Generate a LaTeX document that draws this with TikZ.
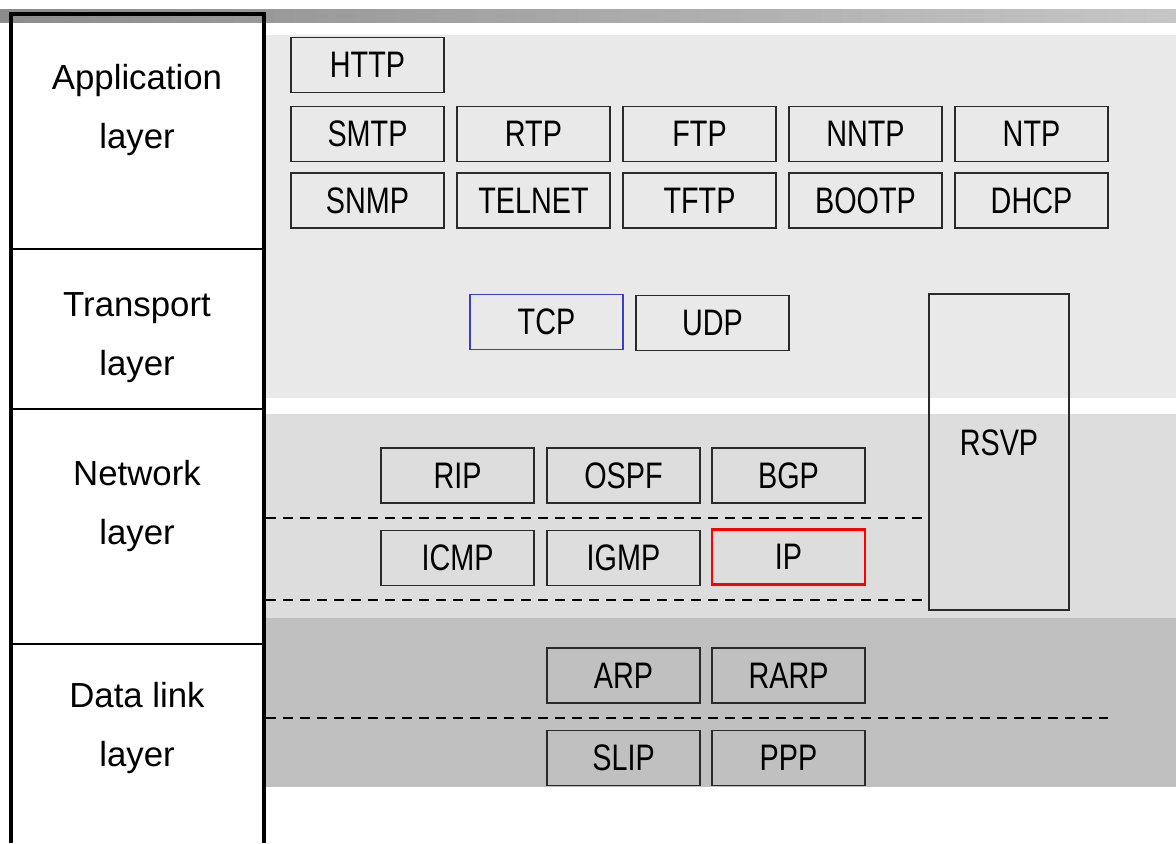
\documentclass[tikz,border=0pt]{standalone}
\usepackage{fontspec}
\setmainfont{Liberation Sans}
\newfontfamily\narrowsf[FakeStretch=0.78]{Liberation Sans}
\definecolor{barleft}{HTML}{8C8C8C}
\definecolor{barright}{HTML}{C6C6C6}
\definecolor{appgray}{HTML}{E9E9E9}
\definecolor{netgray}{HTML}{DDDDDD}
\definecolor{linkgray}{HTML}{C0C0C0}
\definecolor{boxline}{HTML}{2A2A2A}
\definecolor{tcpblue}{HTML}{3C3CC8}
\tikzset{
  protobox/.style={draw=boxline,line width=1pt,minimum width=3.06cm,minimum height=1.1cm,
    inner sep=0pt,font=\narrowsf\fontsize{21}{25}\selectfont},
  layertext/.style={align=center,font=\fontsize{19.8}{33.6}\selectfont},
  colline/.style={line width=2pt},
  sepline/.style={line width=1.5pt,dash pattern=on 0.2cm off 0.14cm}
}

\begin{document}
\begin{tikzpicture}[x=0.02cm,y=-0.02cm]
\useasboundingbox (0,0) rectangle (1176,843);

% backgrounds
\shade[left color=barleft,right color=barright] (0,9) rectangle (1176,22);
\fill[appgray] (266,35) rectangle (1176,398);
\fill[netgray] (266,414) rectangle (1176,618);
\fill[linkgray] (266,618) rectangle (1176,787);

% layer column
\draw[colline] (11,843)--(11,14)--(264,14)--(264,843);
\draw[line width=0.8pt] (11,249)--(264,249);
\draw[line width=0.8pt] (11,409)--(264,409);
\draw[line width=0.8pt] (11,644)--(264,644);
\node[layertext] (appl) at (137,110){Application\\layer};
\node[layertext] (trpl) at (137,338){Transport\\layer};
\node[layertext] (netl) at (137,506){Network\\layer};
\node[layertext] (dll) at (137,728){Data link\\layer};

% application layer
\node[protobox] (http) at (367.5,65){HTTP};
\node[protobox] (smtp) at (367.5,134){SMTP};
\node[protobox] (rtp) at (533.5,134){RTP};
\node[protobox] (ftp) at (699.5,134){FTP};
\node[protobox] (nntp) at (865.5,134){NNTP};
\node[protobox] (ntp) at (1031.5,134){NTP};
\node[protobox] (snmp) at (367.5,200.5){SNMP};
\node[protobox] (telnet) at (533.5,200.5){TELNET};
\node[protobox] (tftp) at (699.5,200.5){TFTP};
\node[protobox] (bootp) at (865.5,200.5){BOOTP};
\node[protobox] (dhcp) at (1031.5,200.5){DHCP};

% transport layer
\node[protobox,draw=tcpblue] (tcp) at (546.5,322){TCP};
\node[protobox] (udp) at (712.5,323){UDP};
\node[protobox,minimum width=2.8cm,minimum height=6.32cm] (rsvp) at (999,452){};
\node[font=\narrowsf\fontsize{21}{25}\selectfont] (rsvptext) at (999,443){RSVP};

% network layer
\node[protobox] (rip) at (457.5,475.5){RIP};
\node[protobox] (ospf) at (623.5,475.5){OSPF};
\node[protobox] (bgp) at (788.5,475.5){BGP};
\node[protobox] (icmp) at (457.5,558){ICMP};
\node[protobox] (igmp) at (623.5,558){IGMP};
\node[protobox,draw=red,line width=1.6pt] (ip) at (788.5,557){IP};
\draw[sepline] (266,518)--(rsvp.west|-0,518);
\draw[sepline] (266,600)--(rsvp.west|-0,600);

% data link layer
\node[protobox] (arp) at (623.5,675.5){ARP};
\node[protobox] (rarp) at (788.5,675.5){RARP};
\node[protobox] (slip) at (623.5,758){SLIP};
\node[protobox] (ppp) at (788.5,758){PPP};
\draw[sepline] (266,718)--(1108,718);

\end{tikzpicture}
\end{document}
